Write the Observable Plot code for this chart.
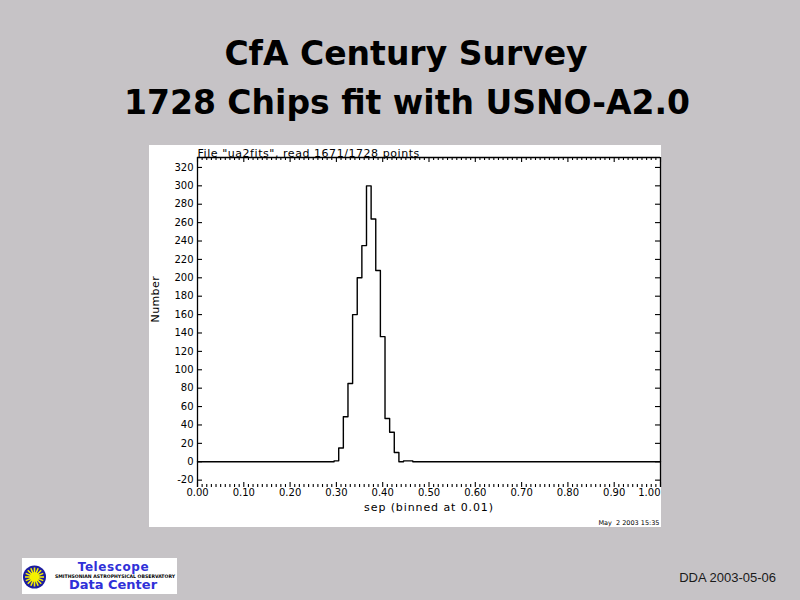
<!DOCTYPE html>
<html>
<head>
<meta charset="utf-8">
<script src="https://cdn.jsdelivr.net/npm/d3@7"></script>
<script src="https://cdn.jsdelivr.net/npm/@observablehq/plot@0.6"></script>
<style>
  html, body { margin: 0; padding: 0; }
  body { width: 800px; height: 600px; background: #c6c3c6; position: relative; overflow: hidden; }
  #bg { position: absolute; left: 0; top: 0; }
  #panel { position: absolute; left: 149px; top: 145px; width: 512px; height: 382px; background: #ffffff; }
  #panel svg { display: block; }
</style>
</head>
<body>
<svg id="bg" width="800" height="600" xmlns="http://www.w3.org/2000/svg">
  <g font-family="DejaVu Sans, sans-serif" font-weight="bold" font-size="33" fill="#000" text-anchor="middle">
    <text x="406" y="65">CfA Century Survey</text>
    <text x="407" y="114">1728 Chips fit with USNO-A2.0</text>
  </g>
  <!-- logo -->
  <rect x="22" y="558" width="155" height="36" fill="#ffffff"/>
  <circle cx="34.5" cy="577" r="11.5" fill="#1c1ca0"/>
  <g id="rays" stroke="#f4f000" stroke-width="1.6"></g>
  <circle cx="34.5" cy="577" r="4.8" fill="#f4f000"/>
  <g font-family="DejaVu Sans, sans-serif" font-weight="bold" text-anchor="middle">
    <text x="113.5" y="571" font-size="12" fill="#3030d8" letter-spacing="0.6">Telescope</text>
    <text x="115" y="577.5" font-size="4.8" fill="#000" textLength="120" lengthAdjust="spacingAndGlyphs">SMITHSONIAN ASTROPHYSICAL OBSERVATORY</text>
    <text x="113" y="589" font-size="13" fill="#3030d8">Data Center</text>
  </g>
  <text x="776" y="582" font-family="Liberation Sans, Arial, sans-serif" font-size="13" fill="#1a1a1a" text-anchor="end">DDA 2003-05-06</text>
</svg>
<div id="panel"></div>
<script>
// ---- data ----
const sepBins = [0.00, 0.29, 0.30, 0.31, 0.32, 0.33, 0.34, 0.35, 0.36, 0.37, 0.38, 0.39, 0.40, 0.41, 0.42, 0.43, 0.44, 0.45, 0.46, 0.47, 1.00];
const counts  = [0,    0,    1,    15,   49,   85,   160,  200,  235,  300,  264,  208,  136,  47,   32,   10,   0,    1,    1,    0,    0];
const xTickLabels = ["0.00","0.10","0.20","0.30","0.40","0.50","0.60","0.70","0.80","0.90","1.00"];
const xMajorTicks = [0, 0.1, 0.2, 0.3, 0.4, 0.5, 0.6, 0.7, 0.8, 0.9, 1.0];
const yTicks = [-20, 0, 20, 40, 60, 80, 100, 120, 140, 160, 180, 200, 220, 240, 260, 280, 300, 320];
const headerText = "File \"ua2fits\", read 1671/1728 points";
const xLabelText = "sep (binned at 0.01)";
const yLabelText = "Number";
const stampText = "May\u00a0 2 2003 15:35";

// sun rays for logo (decoration)
const rays = document.getElementById("rays");
for (let k = 0; k < 16; k++) {
  const a = k * Math.PI / 8;
  const l = document.createElementNS("http://www.w3.org/2000/svg", "line");
  l.setAttribute("x1", 34.5); l.setAttribute("y1", 577);
  l.setAttribute("x2", 34.5 + 9.5 * Math.cos(a)); l.setAttribute("y2", 577 + 9.5 * Math.sin(a));
  rays.appendChild(l);
}

const xMinorTicks = d3.range(0, 100.5, 1).map(k => k / 100).filter(v => Math.abs(v * 10 - Math.round(v * 10)) > 1e-6);
const hist = counts.map((c, i) => ({sep: sepBins[i], n: c}));
const yTop = 330.8, yBottom = -28;

const W = 512, H = 382, mL = 48, mR = 1, mT = 12, mB = 40;
const innerW = W - mL - mR, innerH = H - mT - mB;

const chart = Plot.plot({
  width: W, height: H,
  marginLeft: mL, marginRight: mR, marginTop: mT, marginBottom: mB,
  style: {background: "transparent", fontFamily: "DejaVu Sans, sans-serif", fontSize: "10px", color: "#000", overflow: "visible"},
  x: {domain: [0, 1], axis: null},
  y: {domain: [yBottom, yTop], axis: null},
  marks: [
    // frame: left, top, right
    Plot.ruleX([0, 1], {stroke: "#000", strokeWidth: 1.3}),
    Plot.ruleY([yTop], {stroke: "#000", strokeWidth: 1.3}),
    // bottom ticks
    Plot.ruleX(xMajorTicks, {x: d => d, insetTop: innerH - 5, stroke: "#000", strokeWidth: 1.1}),
    Plot.ruleX(xMinorTicks, {x: d => d, insetTop: innerH - 3, stroke: "#000", strokeWidth: 1.1}),
    // top ticks
    Plot.ruleX(xMajorTicks, {x: d => d, insetBottom: innerH - 5, stroke: "#000", strokeWidth: 1.1}),
    Plot.ruleX(xMinorTicks, {x: d => d, insetBottom: innerH - 3, stroke: "#000", strokeWidth: 1.1}),
    // left & right ticks
    Plot.ruleY(yTicks, {y: d => d, insetRight: innerW - 5, stroke: "#000", strokeWidth: 1.1}),
    Plot.ruleY(yTicks, {y: d => d, insetLeft: innerW - 5, stroke: "#000", strokeWidth: 1.1}),
    // histogram
    Plot.line(hist, {x: "sep", y: "n", curve: "step", stroke: "#000", strokeWidth: 1.4}),
    // tick labels
    Plot.text(yTicks, {y: d => d, frameAnchor: "left", dx: -4, textAnchor: "end", text: d => String(d), fontSize: 10}),
    Plot.text(xMajorTicks.slice(0, 10), {x: d => d, frameAnchor: "bottom", dy: 8, text: (d, i) => xTickLabels[i], fontSize: 10}),
    Plot.text([1.0], {x: d => d, frameAnchor: "bottom", dy: 8, textAnchor: "end", text: () => xTickLabels[10], fontSize: 10}),
    // axis titles, header, stamp
    Plot.text([xLabelText], {frameAnchor: "bottom", dy: 23, text: d => d, fontSize: 11}),
    Plot.text([yLabelText], {frameAnchor: "left", dx: -42.5, rotate: -90, text: d => d, fontSize: 11}),
    Plot.text([headerText], {frameAnchor: "top-left", dy: -8.5, textAnchor: "start", text: d => d, fontSize: 11}),
    Plot.text([stampText], {frameAnchor: "bottom-right", dx: -1, dy: 37.5, textAnchor: "end", text: d => d, fontSize: 6.5})
  ]
});
document.getElementById("panel").appendChild(chart);
// letter spacing for header and axis title to mimic the wide plotting font
chart.querySelectorAll("text").forEach(t => {
  const s = t.textContent;
  if (s === headerText) t.setAttribute("letter-spacing", "0.55");
  if (s === xLabelText) t.setAttribute("letter-spacing", "0.9");
  if (s === yLabelText) t.setAttribute("letter-spacing", "0.4");
});
</script>
</body>
</html>
